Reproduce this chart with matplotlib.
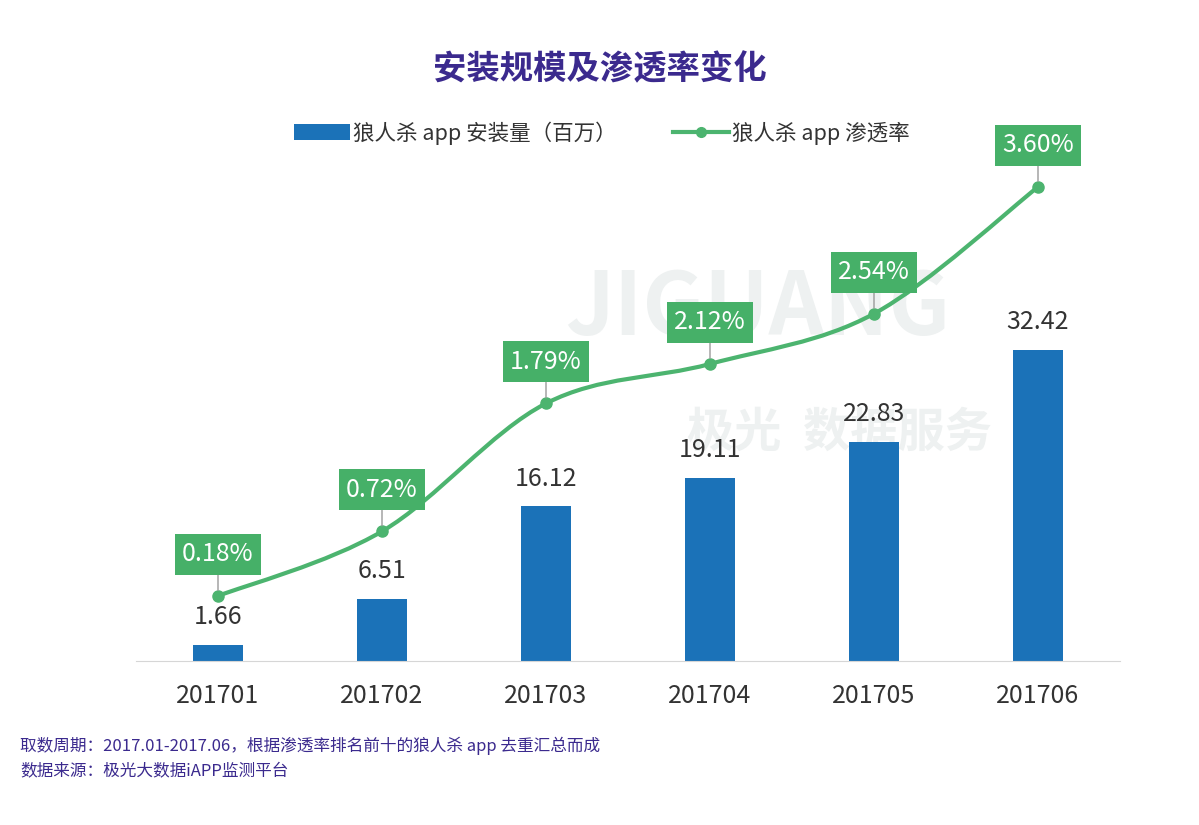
import numpy as np
import matplotlib
matplotlib.use("Agg")
import matplotlib.pyplot as plt
from matplotlib.path import Path
from matplotlib.patches import PathPatch, Patch
from matplotlib.lines import Line2D

plt.rcParams['font.family'] = ['Noto Sans CJK SC', 'DejaVu Sans']

# data
months = ["201701", "201702", "201703", "201704", "201705", "201706"]
installs = [1.66, 6.51, 16.12, 19.11, 22.83, 32.42]      # 百万
penetration = [0.18, 0.72, 1.79, 2.12, 2.54, 3.60]       # %

bar_color = "#1b72b8"
line_color = "#4cb46f"
box_color = "#46b068"
purple = "#3b2a8e"
text_color = "#333333"

fig = plt.figure(figsize=(11.99, 8.25), dpi=100)
ax = fig.add_axes([136 / 1199, 164 / 825, 984 / 1199, 511 / 825])
ax.set_zorder(1)

x = np.arange(len(months))

# faint watermark, behind the axes
fig.text(0.632, 0.625, "JIGUANG", fontsize=62, color="#eef1f1", ha="center",
         va="center", fontweight="bold", zorder=-1)
fig.text(0.70, 0.476, "极光  数据服务", fontsize=34, color="#eef1f1", ha="center",
         va="center", fontweight="bold", zorder=-1)

# bars
ax.bar(x, installs, width=0.305, color=bar_color, zorder=2)
for i, v in enumerate(installs):
    ax.annotate(f"{v:.2f}", (i, v), xytext=(0, 20), textcoords="offset points",
                ha="center", va="center", fontsize=18, color=text_color)

ax.set_xlim(-0.5, 5.5)
ax.set_ylim(0, 53.3)
ax.set_xticks(x)
ax.set_xticklabels(months, fontsize=18, color=text_color)
ax.tick_params(axis="x", length=0, pad=16)
ax.set_yticks([])
for s in ["top", "right", "left"]:
    ax.spines[s].set_visible(False)
ax.spines["bottom"].set_color("#d6d6d6")
ax.patch.set_alpha(0)

# penetration line on twin axis
ax2 = ax.twinx()
ax2.set_zorder(2)
ax2.patch.set_alpha(0)
ax2.set_ylim(-0.364, 3.909)
ax2.set_yticks([])
for s in ax2.spines.values():
    s.set_visible(False)

# smooth curve through the points (Catmull-Rom -> cubic bezier)
pts = np.column_stack([x, penetration]).astype(float)
verts = [tuple(pts[0])]
codes = [Path.MOVETO]
for k in range(len(pts) - 1):
    p0 = pts[k - 1] if k > 0 else pts[k]
    p1 = pts[k]
    p2 = pts[k + 1]
    p3 = pts[k + 2] if k + 2 < len(pts) else pts[k + 1]
    c1 = p1 + (p2 - p0) / 6
    c2 = p2 - (p3 - p1) / 6
    verts += [tuple(c1), tuple(c2), tuple(p2)]
    codes += [Path.CURVE4] * 3
ax2.add_patch(PathPatch(Path(verts, codes), fc="none", ec=line_color, lw=3, zorder=3))
ax2.plot(x, penetration, "o", color=line_color, ms=8, zorder=4)

for i, p in enumerate(penetration):
    ax2.annotate(f"{p:.2f}%", (i, p), xytext=(0, 30), textcoords="offset points",
                 ha="center", va="center", fontsize=18, color="white",
                 bbox=dict(boxstyle="square,pad=0.3", fc=box_color, ec="none"),
                 arrowprops=dict(arrowstyle="-", color="#9a9a9a", lw=1,
                                 shrinkA=0, shrinkB=4),
                 zorder=5)

# title
fig.text(0.5, (825 - 70) / 825, "安装规模及渗透率变化", fontsize=24, fontweight="bold",
         color=purple, ha="center", va="center")

# legend
handles = [Patch(fc=bar_color, ec="none"),
           Line2D([], [], color=line_color, lw=3, marker="o", ms=7)]
labels = ["狼人杀 app 安装量（百万）", "狼人杀 app 渗透率"]
fig.legend(handles, labels, ncol=2, frameon=False, fontsize=15.5,
           loc="center", bbox_to_anchor=(602 / 1199, (825 - 133) / 825),
           handlelength=2.6, handleheight=0.75, handletextpad=0.15,
           columnspacing=2.6, labelcolor=text_color)

# footer notes
fig.text(20 / 1199, (825 - 746) / 825,
         "取数周期：2017.01-2017.06，根据渗透率排名前十的狼人杀 app 去重汇总而成",
         fontsize=12, color=purple, style="italic", ha="left", va="center")
fig.text(20 / 1199, (825 - 772) / 825, "数据来源：极光大数据iAPP监测平台",
         fontsize=12, color=purple, style="italic", ha="left", va="center")

fig.savefig("out.png", dpi=100)
